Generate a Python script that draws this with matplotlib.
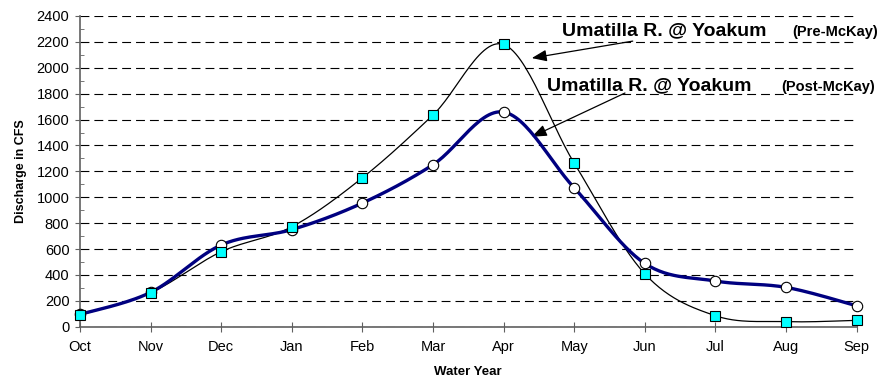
import matplotlib.pyplot as plt
import numpy as np

plt.rcParams['font.family'] = ['Liberation Sans', 'DejaVu Sans']

months = ['Oct', 'Nov', 'Dec', 'Jan', 'Feb', 'Mar', 'Apr', 'May', 'Jun', 'Jul', 'Aug', 'Sep']
pre_mckay = [90, 262, 579, 772, 1150, 1635, 2180, 1264, 409, 85, 39, 49]
post_mckay = [95, 265, 631, 750, 955, 1251, 1658, 1073, 489, 353, 304, 162]


def smooth(xs, ys, n=30):
    # cubic bezier through the points, control points like a spreadsheet "smoothed line"
    xs = np.asarray(xs, float)
    ys = np.asarray(ys, float)
    px = np.concatenate([[xs[0]], xs, [xs[-1]]])
    py = np.concatenate([[ys[0]], ys, [ys[-1]]])
    t = np.linspace(0, 1, n)
    outx, outy = [], []
    for i in range(1, len(px) - 2):
        p0 = np.array([px[i], py[i]])
        p3 = np.array([px[i + 1], py[i + 1]])
        p1 = p0 + (np.array([px[i + 1], py[i + 1]]) - np.array([px[i - 1], py[i - 1]])) / 6
        p2 = p3 - (np.array([px[i + 2], py[i + 2]]) - np.array([px[i], py[i]])) / 6
        b = ((1 - t) ** 3)[:, None] * p0 + (3 * (1 - t) ** 2 * t)[:, None] * p1 \
            + (3 * (1 - t) * t ** 2)[:, None] * p2 + (t ** 3)[:, None] * p3
        outx.extend(b[:, 0])
        outy.extend(b[:, 1])
    return outx, outy


x = np.arange(len(months))

fig = plt.figure(figsize=(8.83, 3.85), dpi=100)
ax = fig.add_axes([80 / 883, 58.3 / 385, 776.5 / 883, 310.7 / 385])

sx, sy = smooth(x, pre_mckay)
ax.plot(sx, sy, color='black', linewidth=0.9, zorder=3, clip_on=False)
sx, sy = smooth(x, post_mckay)
ax.plot(sx, sy, color='#000080', linewidth=2.4, zorder=4, clip_on=False)

ax.plot(x, post_mckay, linestyle='none', marker='o', markersize=7.5,
        markerfacecolor='white', markeredgecolor='black', markeredgewidth=0.8,
        zorder=5, clip_on=False)
ax.plot(x, pre_mckay, linestyle='none', marker='s', markersize=7,
        markerfacecolor='#00FFFF', markeredgecolor='black', markeredgewidth=0.8,
        zorder=6, clip_on=False)

ax.set_xlim(0, 11)
ax.set_ylim(0, 2400)
ax.set_yticks(np.arange(0, 2401, 200))
ax.set_yticks(np.arange(100, 2400, 200), minor=True)
ax.set_xticks(x)
ax.set_xticklabels(months)

ax.yaxis.grid(True, linestyle=(0, (8, 4.5)), color='black', linewidth=0.8)
ax.set_axisbelow(True)

for side in ['top', 'right']:
    ax.spines[side].set_visible(False)
for side in ['left', 'bottom']:
    ax.spines[side].set_color('#606060')
    ax.spines[side].set_linewidth(1.2)

ax.tick_params(axis='y', which='major', direction='out', length=3.6, color='#606060',
               labelsize=10.5, pad=4)
ax.tick_params(axis='y', which='minor', direction='in', length=3, color='#606060')
ax.tick_params(axis='x', direction='inout', length=6.5, color='#606060', labelsize=10.5, pad=6)

ax.set_xlabel('Water Year', fontsize=9.5, fontweight='bold', labelpad=9)
ax.set_ylabel('Discharge in CFS', fontsize=9, fontweight='bold', labelpad=7)

# series labels with arrows
ax.annotate('', xy=(6.40, 2075), xytext=(7.83, 2206),
            arrowprops=dict(arrowstyle='-|>,head_length=0.9,head_width=0.35',
                            color='black', lw=0.9, shrinkA=0, shrinkB=0))
ax.annotate('', xy=(6.40, 1467), xytext=(7.72, 1805),
            arrowprops=dict(arrowstyle='-|>,head_length=0.9,head_width=0.35',
                            color='black', lw=0.9, shrinkA=0, shrinkB=0))

ax.text(6.83, 2252, 'Umatilla R. @ Yoakum', fontsize=14, fontweight='bold',
        va='baseline', ha='left')
ax.text(11.3, 2245, '(Pre-McKay)', fontsize=10.5, fontweight='bold',
        va='baseline', ha='right', clip_on=False)
ax.text(6.62, 1828, 'Umatilla R. @ Yoakum', fontsize=14, fontweight='bold',
        va='baseline', ha='left')
ax.text(11.26, 1822, '(Post-McKay)', fontsize=10.5, fontweight='bold',
        va='baseline', ha='right', clip_on=False)

fig.savefig('out.png', dpi=100)
